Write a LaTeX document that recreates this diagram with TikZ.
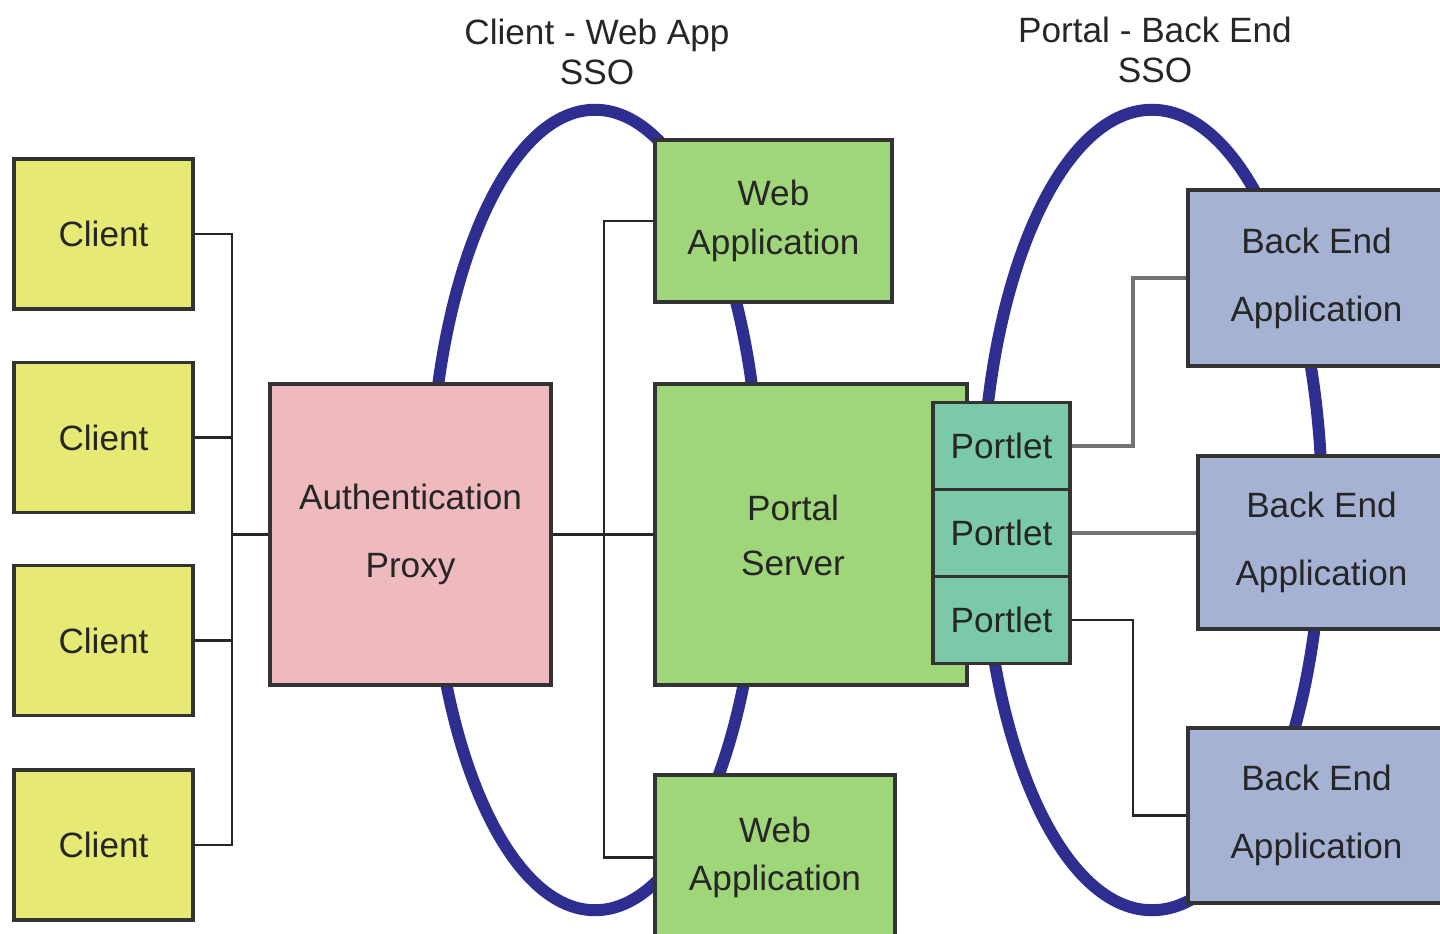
\documentclass[tikz,border=0pt]{standalone}
\usepackage{fontspec}
\setmainfont{Liberation Sans}
\usepackage{tikz}
\usepackage{xcolor}
\usetikzlibrary{arrows.meta,calc}

\definecolor{clientcol}{RGB}{230,234,117}
\definecolor{proxycol}{RGB}{238,186,190}
\definecolor{webcol}{RGB}{160,214,122}
\definecolor{portletcol}{RGB}{122,202,170}
\definecolor{backcol}{RGB}{166,178,212}
\definecolor{ssocol}{RGB}{46,46,145}

\begin{document}
\begin{tikzpicture}[x=0.01cm, y=-0.01cm, >=Stealth,
  box/.style={draw=black!80, line width=1pt, align=center, inner sep=0pt,
    text=black!85, font=\fontsize{10}{11.5}\selectfont},
  client/.style={box, fill=clientcol, minimum width=1.79cm, minimum height=1.5cm},
  wire/.style={draw=black!85, line width=0.7pt},
  greywire/.style={draw=black!55, line width=1pt},
  sso/.style={draw=ssocol, line width=3.4pt}]
\useasboundingbox (0,0) rectangle (1440,934);
\clip (0,0) rectangle (1440,934);

% SSO rings
\draw[sso] (595,510) ellipse (1.65cm and 4cm);
\draw[sso] (1152,510) ellipse (1.70cm and 4cm);
\node[align=center, text=black!85, font=\fontsize{10}{11.5}\selectfont] (ssoleft) at (597,52) {Client - Web App\\SSO};
\node[align=center, text=black!85, font=\fontsize{10}{11.5}\selectfont] (ssoright) at (1155,50) {Portal - Back End\\SSO};

% clients
\node[client] (c1) at (103.5,234) {Client};
\node[client] (c2) at (103.5,437.5) {Client};
\node[client] (c3) at (103.5,640.5) {Client};
\node[client] (c4) at (103.5,845) {Client};

% proxy and portal
\node[box, fill=proxycol, minimum width=2.81cm, minimum height=3.01cm] (auth) at (410.5,534.5) {Authentication\\[7.8pt]Proxy};
\node[box, fill=webcol, minimum width=3.12cm, minimum height=3.01cm] (portal) at (811,534.5) {};
\node[align=center, text=black!85, font=\fontsize{10}{11.5}\selectfont] (portaltext) at (793,535) {Portal\\[4.1pt]Server};
\node[box, fill=portletcol, minimum width=1.37cm, minimum height=0.87cm] (pl1) at (1001.5,446) {Portlet};
\node[box, fill=portletcol, minimum width=1.37cm, minimum height=0.87cm] (pl2) at (1001.5,533) {Portlet};
\node[box, fill=portletcol, minimum width=1.37cm, minimum height=0.87cm] (pl3) at (1001.5,620) {Portlet};

% web applications
\node[box, fill=webcol, minimum width=2.37cm, minimum height=1.62cm] (web1) at (773.5,221) {Web\\[2.2pt]Application};
\node[box, fill=webcol, minimum width=2.40cm, minimum height=1.65cm] (web2) at (775,857.5) {Web\\[2.2pt]Application};

% back ends
\node[box, fill=backcol, minimum width=2.57cm, minimum height=1.76cm] (be1) at (1316.5,278) {Back End\\[7.8pt]Application};
\node[box, fill=backcol, minimum width=2.47cm, minimum height=1.73cm] (be2) at (1321.5,542.5) {Back End\\[7.8pt]Application};
\node[box, fill=backcol, minimum width=2.57cm, minimum height=1.75cm] (be3) at (1316.5,815.5) {Back End\\[7.8pt]Application};

% client bus
\coordinate (bus) at (232,534.5);
\draw[wire] (c1.east) -| (bus);
\draw[wire] (c2.east) -| (bus);
\draw[wire] (c3.east) -| (bus);
\draw[wire] (c4.east) -| (bus);
\draw[wire] (bus) -- (auth.west);

% proxy to portal and web apps
\coordinate (split) at (604,534.5);
\draw[wire] (auth.east) -- (portal.west);
\draw[wire] (web1.west) -| (split) |- (web2.west);

% portlets to back ends
\draw[greywire] (pl1.east) -- ++(61,0) |- (be1.west);
\draw[greywire] (pl2.east) -- (pl2.east -| be2.west);
\draw[wire] (pl3.east) -- ++(61,0) |- (be3.west);
\end{tikzpicture}
\end{document}
